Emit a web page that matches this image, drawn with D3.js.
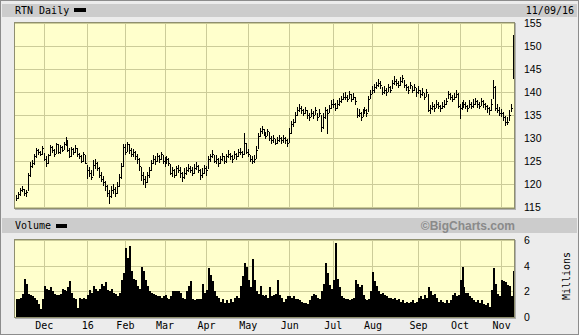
<!DOCTYPE html>
<html>
<head>
<meta charset="utf-8">
<script src="https://cdn.jsdelivr.net/npm/d3@7"></script>
<style>
  body { margin: 0; background: #ececec; }
  svg { display: block; }
  .mono { font-family: "DejaVu Sans Mono", monospace; font-size: 10px; fill: #000; }
  .num { font-family: "Liberation Sans", Arial, sans-serif; font-size: 10.5px; fill: #000; }
</style>
</head>
<body>
<div id="chart"></div>
<script>
// daily bars, one array per month: [high, low, close]
const nov15 = [[117.6,116.4,117.0],[118.3,116.8,117.8],[119.2,117.5,118.6],[119.6,118.2,119.0],[119.0,117.3,118.0],[118.6,117.2,118.2],[122.5,118.5,122.0],[124.8,121.6,124.0],[125.2,123.4,124.5],[126.5,124.2,126.0],[127.8,125.7,127.3],[127.6,126.2,127.0],[127.2,126.0,126.6],[128.2,126.4,127.8]];
const dec15 = [[126.8,125.0,125.5],[126.0,123.8,124.5],[126.6,124.3,126.2],[128.5,126.0,128.0],[128.3,126.8,127.4],[127.7,125.8,126.5],[129.0,126.5,128.6],[128.8,126.6,127.0],[128.5,126.6,128.0],[128.3,126.9,127.5],[129.2,127.4,128.6],[130.2,128.2,129.5],[129.6,127.0,127.5],[127.8,125.6,126.0],[128.0,125.9,127.6],[127.9,126.4,127.0],[128.4,126.8,127.8],[127.8,125.9,126.5],[126.8,125.4,126.0],[126.3,124.6,125.0],[127.0,124.8,126.5],[126.4,124.3,124.6]];
const jan16 = [[124.2,121.0,123.0],[123.6,121.6,122.5],[123.0,120.8,121.5],[125.2,121.8,124.2],[125.5,123.2,124.5],[124.8,122.8,123.5],[123.8,121.2,122.0],[122.6,120.4,121.0],[121.8,119.6,120.5],[120.6,118.4,119.5],[119.8,117.2,118.0],[118.8,115.6,117.4],[119.6,117.0,118.6],[120.0,117.8,119.0],[119.4,117.2,118.0],[120.4,117.8,119.6],[122.2,119.4,121.6],[124.6,121.0,124.0],[128.6,123.6,128.0]];
const feb16 = [[128.8,126.4,127.0],[129.2,127.0,128.6],[128.7,126.6,127.5],[127.8,125.8,126.5],[127.6,125.8,127.0],[127.2,125.2,126.0],[126.6,124.4,125.5],[125.6,122.8,124.0],[123.8,120.6,122.0],[122.6,119.8,121.0],[121.8,119.2,120.5],[122.6,120.2,122.0],[123.6,121.4,123.0],[125.2,122.8,124.5],[126.2,124.4,125.5],[126.0,124.2,125.0],[126.8,124.8,126.0],[126.4,124.6,125.5],[127.0,125.2,126.5],[126.4,124.4,125.0]];
const mar16 = [[125.8,123.8,125.0],[126.0,124.4,125.5],[125.6,123.9,124.5],[124.4,122.0,122.5],[123.8,121.6,123.0],[123.2,121.4,122.0],[124.0,121.8,123.5],[124.2,122.4,123.0],[123.6,121.2,122.5],[122.6,120.4,121.5],[123.4,121.0,122.5],[123.8,122.0,123.0],[124.4,122.6,123.5],[124.0,122.4,123.0],[123.6,121.8,122.5],[124.3,122.2,123.5],[124.8,123.0,124.0],[124.2,122.4,123.0],[123.2,120.8,122.0],[123.4,121.2,122.5],[124.2,122.2,123.5]];
const apr16 = [[124.0,121.8,123.0],[126.0,123.2,125.5],[126.6,124.8,126.0],[127.4,125.6,126.5],[126.2,124.6,125.0],[126.2,124.4,125.5],[125.6,123.8,124.5],[126.0,124.4,125.5],[126.8,125.0,126.0],[126.0,124.4,125.0],[126.6,124.6,126.0],[127.4,125.6,126.5],[126.8,125.2,126.0],[126.4,124.6,125.5],[127.2,125.4,126.5],[126.8,125.2,126.0],[127.6,125.8,127.0],[127.8,126.2,127.0],[127.2,125.6,126.5],[131.0,126.4,129.0],[129.0,126.6,127.0]];
const may16 = [[127.6,125.8,126.5],[126.4,124.8,125.5],[126.0,124.4,125.0],[126.4,124.6,125.5],[128.2,125.4,127.5],[131.0,127.6,130.5],[132.2,130.2,131.5],[132.6,130.8,132.0],[132.0,130.4,131.0],[131.4,129.8,130.5],[132.0,130.4,131.5],[131.2,129.4,130.0],[130.4,128.8,129.5],[130.6,129.0,130.0],[129.8,128.4,129.0],[130.2,128.6,129.5],[130.6,129.2,130.0],[130.2,128.8,129.5],[130.6,129.0,130.0],[130.2,128.6,129.5],[129.8,128.0,129.0]];
const jun16 = [[132.2,129.0,131.0],[133.6,130.8,133.0],[134.2,132.4,133.5],[135.6,133.2,135.0],[136.8,134.8,136.0],[137.4,135.6,136.5],[137.0,135.2,136.0],[136.4,134.8,135.5],[136.8,135.2,136.0],[136.0,134.2,135.0],[135.4,133.8,134.5],[136.2,134.6,135.5],[135.8,134.2,135.0],[136.8,135.0,136.0],[135.4,133.6,134.5],[136.2,134.6,135.5],[135.0,131.2,132.5],[135.4,132.0,134.5],[136.8,134.2,136.0],[136.4,130.8,135.5],[137.2,135.4,136.5],[138.2,136.4,137.5]];
const jul16 = [[138.4,136.6,137.5],[137.6,135.8,136.5],[138.2,136.4,137.5],[138.8,137.0,138.0],[139.2,137.6,138.5],[139.8,138.2,139.0],[140.0,138.2,139.0],[139.4,137.8,138.5],[140.2,138.4,139.5],[139.6,137.8,138.5],[139.8,138.2,139.0],[139.0,137.2,138.0],[136.6,134.4,135.0],[136.2,134.6,135.5],[135.6,133.8,134.5],[136.4,134.6,135.5],[136.8,135.2,136.0],[136.4,134.6,135.5],[139.2,135.6,138.5],[140.4,138.4,139.5]];
const aug16 = [[141.2,139.6,140.5],[141.8,139.8,141.0],[142.2,140.6,141.5],[142.8,141.0,142.0],[142.4,140.6,141.5],[141.0,139.4,140.0],[141.2,139.6,140.5],[140.8,139.2,140.0],[141.8,140.0,141.0],[141.4,139.8,140.5],[142.6,140.6,142.0],[143.4,141.6,142.5],[142.8,141.2,142.0],[142.4,140.8,141.5],[143.2,141.4,142.5],[143.8,142.0,143.0],[142.6,140.8,141.5],[141.8,140.2,141.0],[141.4,139.6,140.5],[142.2,140.6,141.5],[141.4,139.8,140.5],[141.8,140.2,141.0],[140.8,139.0,140.0]];
const sep16 = [[141.2,139.6,140.5],[140.4,138.8,139.5],[140.8,139.2,140.0],[139.8,138.2,139.0],[140.6,139.0,140.0],[139.6,135.6,136.0],[137.2,135.2,136.5],[137.8,136.0,137.0],[137.4,135.6,136.5],[138.2,136.6,137.5],[137.8,136.2,137.0],[137.2,135.6,136.5],[137.8,136.2,137.0],[138.2,136.6,137.5],[138.8,137.2,138.0],[140.2,138.4,139.5],[139.8,138.2,139.0],[139.4,137.8,138.5],[139.8,138.2,139.0],[140.4,138.8,139.5],[139.8,136.6,137.0]];
const oct16 = [[137.4,134.2,136.5],[137.8,136.0,137.0],[138.2,136.6,137.5],[137.8,136.2,137.0],[137.2,135.6,136.5],[138.2,136.6,137.5],[137.8,136.2,137.0],[138.4,136.6,137.5],[138.8,137.2,138.0],[138.2,136.6,137.5],[137.8,136.2,137.0],[138.8,137.0,138.0],[138.2,136.6,137.5],[137.6,136.0,137.0],[137.2,135.4,136.5],[136.8,135.0,136.0],[138.4,135.8,137.5],[142.6,138.4,141.0],[141.4,135.8,136.5],[137.4,135.4,136.0],[136.8,134.8,135.5]];
const nov16 = [[136.4,134.6,135.5],[135.6,133.8,134.5],[134.8,132.6,133.5],[134.6,132.8,133.5],[136.0,133.8,135.0],[137.4,135.6,136.5],[152.4,142.8,146.0]];

// volume in millions, same days
const volNov15 = [1.4,1.4,1.5,1.8,3.0,2.6,1.8,1.7,1.6,1.5,1.3,1.0,0.6,1.4];
const volDec15 = [2.4,2.2,2.1,2.3,2.0,1.8,1.7,1.7,1.8,2.2,2.1,2.0,2.3,2.8,1.9,1.5,1.4,0.7,1.5,1.4,1.5,1.4];
const volJan16 = [1.7,2.1,1.9,2.4,2.2,2.0,2.2,2.6,2.4,2.7,2.1,2.0,2.2,1.9,1.8,1.6,1.9,2.9,3.4];
const volFeb16 = [5.4,4.6,5.5,3.6,3.0,2.9,2.4,2.2,3.9,3.6,2.9,2.4,2.0,1.9,1.8,1.7,1.6,1.6,1.5,1.6];
const volMar16 = [1.7,1.5,1.4,1.6,2.0,2.0,2.0,2.0,1.9,1.5,1.4,2.0,2.4,2.8,1.4,1.3,1.4,1.4,1.4,2.6,1.9];
const volApr16 = [2.1,3.8,3.3,2.8,2.0,1.6,1.5,1.2,1.4,1.1,1.3,1.1,1.4,1.2,1.5,1.6,1.5,2.4,3.2,4.2,3.9];
const volMay16 = [2.9,2.3,4.5,2.9,2.0,1.8,2.4,1.7,1.6,1.7,1.5,2.3,1.6,1.7,1.8,2.9,1.7,1.5,1.2,1.4,1.6];
const volJun16 = [1.6,1.5,1.6,1.4,1.4,1.3,1.2,1.1,1.1,1.0,1.3,1.6,1.8,1.7,1.5,1.4,2.0,2.6,4.2,3.4,2.5,2.2];
const volJul16 = [2.9,5.8,3.0,2.3,1.6,1.5,1.4,1.4,1.3,1.4,1.5,2.9,2.6,2.3,2.5,1.7,1.4,1.3,1.4,2.0];
const volAug16 = [3.5,2.8,2.4,2.0,1.8,1.9,1.7,1.6,1.5,1.5,1.4,1.5,1.3,1.4,1.2,1.3,1.1,1.2,1.1,1.2,1.3,1.1,1.2];
const volSep16 = [1.5,1.6,1.4,1.7,1.5,2.3,2.0,1.7,1.8,1.5,1.2,1.3,1.2,1.1,1.3,1.1,1.3,1.7,1.9,1.6,1.7];
const volOct16 = [2.9,3.9,2.3,1.9,1.9,1.6,1.5,1.3,1.2,1.3,1.1,1.3,1.0,0.9,1.1,0.8,2.1,3.8,2.6,1.8,1.6];
const volNov16 = [2.9,2.8,2.7,2.5,2.4,1.6,3.6];

const priceMonths = [nov15, dec15, jan16, feb16, mar16, apr16, may16, jun16, jul16, aug16, sep16, oct16, nov16];
const volMonths = [volNov15, volDec15, volJan16, volFeb16, volMar16, volApr16, volMay16, volJun16, volJul16, volAug16, volSep16, volOct16, volNov16];
// label shown at the start of each month (first partial month has none)
const monthLabels = ['', 'Dec', '16', 'Feb', 'Mar', 'Apr', 'May', 'Jun', 'Jul', 'Aug', 'Sep', 'Oct', 'Nov'];
const priceTicks = [115, 120, 125, 130, 135, 140, 145, 150, 155];
const volTicks = [0, 2, 4, 6];

// flatten months into one daily series, remembering where each month starts
const bars = [], vols = [], monthStarts = [];
priceMonths.forEach((m, k) => {
    monthStarts.push(bars.length);
    m.forEach((d, j) => {
        bars.push({ i: bars.length, h: d[0], l: d[1], c: d[2] });
        vols.push({ i: vols.length, v: volMonths[k][j] });
    });
});

const W = 579, H = 335;
const svg = d3.select('#chart').append('svg')
    .attr('width', W).attr('height', H)
    .attr('shape-rendering', 'crispEdges');

// frame
svg.append('rect').attr('x', 0.5).attr('y', 0.5).attr('width', W - 1).attr('height', H - 1)
    .attr('fill', '#ececec').attr('stroke', '#8c8c8c');

// header bars
svg.append('rect').attr('x', 2).attr('y', 4).attr('width', 575).attr('height', 13).attr('fill', '#cccccc');
svg.append('rect').attr('x', 2).attr('y', 218).attr('width', 575).attr('height', 15).attr('fill', '#cccccc');

svg.append('text').attr('class', 'mono').attr('x', 15).attr('y', 14).text('RTN Daily');
svg.append('rect').attr('x', 74).attr('y', 8).attr('width', 12).attr('height', 4).attr('fill', '#000');
svg.append('text').attr('class', 'mono').attr('x', 574).attr('y', 14).attr('text-anchor', 'end').text('11/09/16');

svg.append('text').attr('class', 'mono').attr('x', 15).attr('y', 229).text('Volume');
svg.append('rect').attr('x', 56).attr('y', 224).attr('width', 11).attr('height', 4).attr('fill', '#000');
svg.append('text').attr('x', 515).attr('y', 230).attr('text-anchor', 'end')
    .style('font-family', '"Liberation Sans", Arial, sans-serif').style('font-size', '12px')
    .style('font-weight', 'bold').attr('fill', '#8a8a8a').text('\u00A9BigCharts.com');

// scales
const plotL = 14, plotR = 515;
const x = d3.scaleLinear().domain([0, bars.length - 1]).range([16, 513]);
const px = (i) => Math.round(x(i));
const yP = d3.scaleLinear().domain([115, 155]).range([207, 23]);
const yV = d3.scaleLinear().domain([0, 6]).range([317, 240]);

function panel (top, bottom, yScale, ticks) {
    const g = svg.append('g');
    g.append('rect').attr('x', plotL).attr('y', top).attr('width', plotR - plotL).attr('height', bottom - top)
        .attr('fill', '#ffffcc');
    // horizontal grid
    g.selectAll('.h').data(ticks).enter().append('line')
        .attr('x1', plotL).attr('x2', plotR)
        .attr('y1', (d) => Math.round(yScale(d)) + 0.5)
        .attr('y2', (d) => Math.round(yScale(d)) + 0.5)
        .attr('stroke', '#cccc99');
    // vertical grid at month starts
    g.selectAll('.v').data(monthStarts.slice(1)).enter().append('line')
        .attr('x1', (d) => px(d) + 0.5).attr('x2', (d) => px(d) + 0.5)
        .attr('y1', top).attr('y2', bottom)
        .attr('stroke', '#cccc99');
    return g;
}

const gP = panel(22, 208, yP, priceTicks);
const gV = panel(239, 317, yV, volTicks);

// price bars: high-low line plus close tick
gP.selectAll('.bar').data(bars).enter().append('rect')
    .attr('x', (d) => px(d.i))
    .attr('y', (d) => Math.round(yP(d.h)))
    .attr('width', 1)
    .attr('height', (d) => Math.max(1, Math.round(yP(d.l)) - Math.round(yP(d.h))))
    .attr('fill', '#000');
gP.selectAll('.cls').data(bars).enter().append('rect')
    .attr('x', (d) => px(d.i) + 1)
    .attr('y', (d) => Math.round(yP(d.c)))
    .attr('width', 1).attr('height', 1)
    .attr('fill', '#000');

// volume columns
gV.selectAll('.vol').data(vols).enter().append('rect')
    .attr('x', (d) => px(d.i))
    .attr('y', (d) => Math.round(yV(d.v)))
    .attr('width', 2)
    .attr('height', (d) => 317 - Math.round(yV(d.v)))
    .attr('fill', '#000');

// plot borders
[[22, 208], [239, 317]].forEach(([t, b]) => {
    svg.append('rect').attr('x', plotL + 0.5).attr('y', t + 0.5).attr('width', plotR - plotL - 1).attr('height', b - t)
        .attr('fill', 'none').attr('stroke', '#8f8f6f');
    svg.append('line').attr('x1', plotL + 1).attr('x2', plotR + 1).attr('y1', b + 1.5).attr('y2', b + 1.5).attr('stroke', '#b0b0b0');
    svg.append('line').attr('x1', plotR + 0.5).attr('x2', plotR + 0.5).attr('y1', t + 1).attr('y2', b + 2).attr('stroke', '#b0b0b0');
});

// right axes
const axP = svg.append('g').attr('transform', 'translate(521,0)')
    .call(d3.axisRight(yP).tickValues(priceTicks).tickFormat(d3.format('d')).tickSize(0).tickPadding(3));
const axV = svg.append('g').attr('transform', 'translate(521,0)')
    .call(d3.axisRight(yV).tickValues(volTicks).tickFormat(d3.format('d')).tickSize(0).tickPadding(3));
[axP, axV].forEach((a) => {
    a.select('.domain').remove();
    a.attr('font-family', null).attr('font-size', null);
    a.selectAll('text').attr('class', 'num').attr('fill', '#000');
});

svg.append('text').attr('class', 'mono')
    .attr('transform', 'translate(570,276) rotate(-90)')
    .attr('text-anchor', 'middle').text('Millions');

// month axis under the volume panel
const axM = svg.append('g').attr('transform', 'translate(0,321)')
    .call(d3.axisBottom(x).tickValues(monthStarts.slice(1))
        .tickFormat((d) => monthLabels[monthStarts.indexOf(d)])
        .tickSize(0).tickPadding(1));
axM.select('.domain').remove();
axM.attr('font-family', null).attr('font-size', null);
axM.selectAll('text').attr('class', 'mono').attr('fill', '#000');
</script>
</body>
</html>
